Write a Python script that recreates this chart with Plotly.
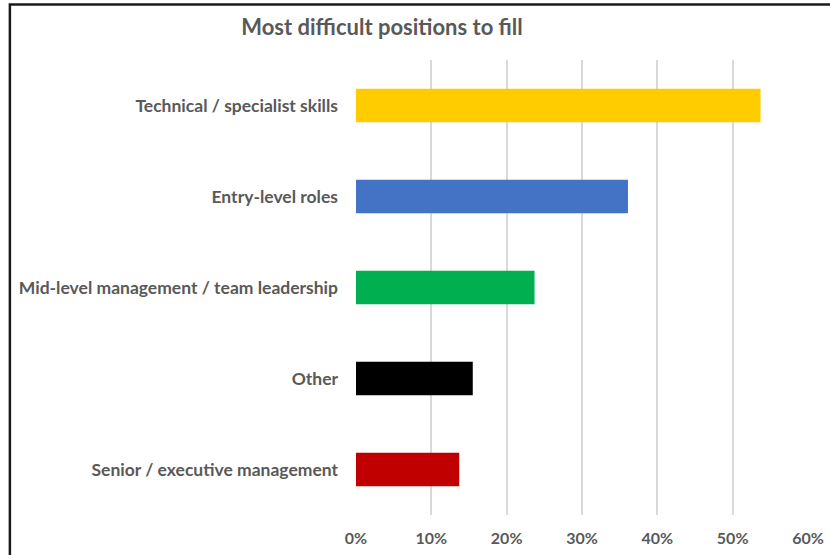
import plotly.graph_objects as go

# Survey results: share of respondents naming each role type
categories = [
    "Technical / specialist skills",
    "Entry-level roles",
    "Mid-level management / team leadership",
    "Other",
    "Senior / executive management",
]
shares = [0.537, 0.361, 0.237, 0.155, 0.137]
bar_colors = ["#FFCC00", "#4472C4", "#00B050", "#000000", "#C00000"]
x_ticks = [0, 0.1, 0.2, 0.3, 0.4, 0.5, 0.6]

W, H = 830, 555
L, R, T, B = 355.5, 22, 59.5, 39.5
pw, ph = W - L - R, H - T - B

text_color = "#595959"
font_family = "Lato, Carlito, Calibri, sans-serif"

fig = go.Figure(
    go.Bar(
        x=shares,
        y=categories,
        orientation="h",
        marker=dict(color=bar_colors, line=dict(width=0)),
        width=0.37,
        hoverinfo="skip",
    )
)

# outer frame around the chart area
def px_to_paper_x(px):
    return (px - L) / pw

def px_to_paper_y(py):
    return 1 - (py - T) / ph

fig.add_shape(
    type="rect",
    xref="paper", yref="paper",
    x0=px_to_paper_x(9), x1=px_to_paper_x(845),
    y0=px_to_paper_y(570), y1=px_to_paper_y(4),
    line=dict(color="#1a1a1a", width=2.5),
    fillcolor="rgba(0,0,0,0)",
    layer="above",
)

fig.update_layout(
    width=W,
    height=H,
    margin=dict(l=L, r=R, t=T, b=B, pad=0, autoexpand=False),
    paper_bgcolor="white",
    plot_bgcolor="white",
    showlegend=False,
    bargap=0.63,
    title=dict(
        text="<b>Most difficult positions to fill</b>",
        x=382 / W,
        xanchor="center",
        xref="container",
        y=1 - 27 / H,
        yanchor="middle",
        yref="container",
        font=dict(family=font_family, size=22, color=text_color),
    ),
    font=dict(family=font_family, color=text_color),
)

fig.update_xaxes(
    range=[0, 0.6],
    tickvals=x_ticks,
    ticktext=[f"<b>{int(round(v * 100))}%</b>" for v in x_ticks],
    showgrid=True,
    gridcolor="#D9D9D9",
    gridwidth=2,
    zeroline=False,
    showline=False,
    ticks="",
    tickfont=dict(size=16, color=text_color),
    ticklabelstandoff=12,
    automargin=False,
    fixedrange=True,
)

fig.update_yaxes(
    categoryorder="array",
    categoryarray=categories[::-1],
    tickvals=categories,
    ticktext=[f"<b>{c}</b>" for c in categories],
    showgrid=False,
    zeroline=False,
    showline=False,
    ticks="",
    tickfont=dict(size=17.5, color=text_color),
    ticklabelstandoff=17,
    automargin=False,
    fixedrange=True,
)

fig.write_html("out.html")
